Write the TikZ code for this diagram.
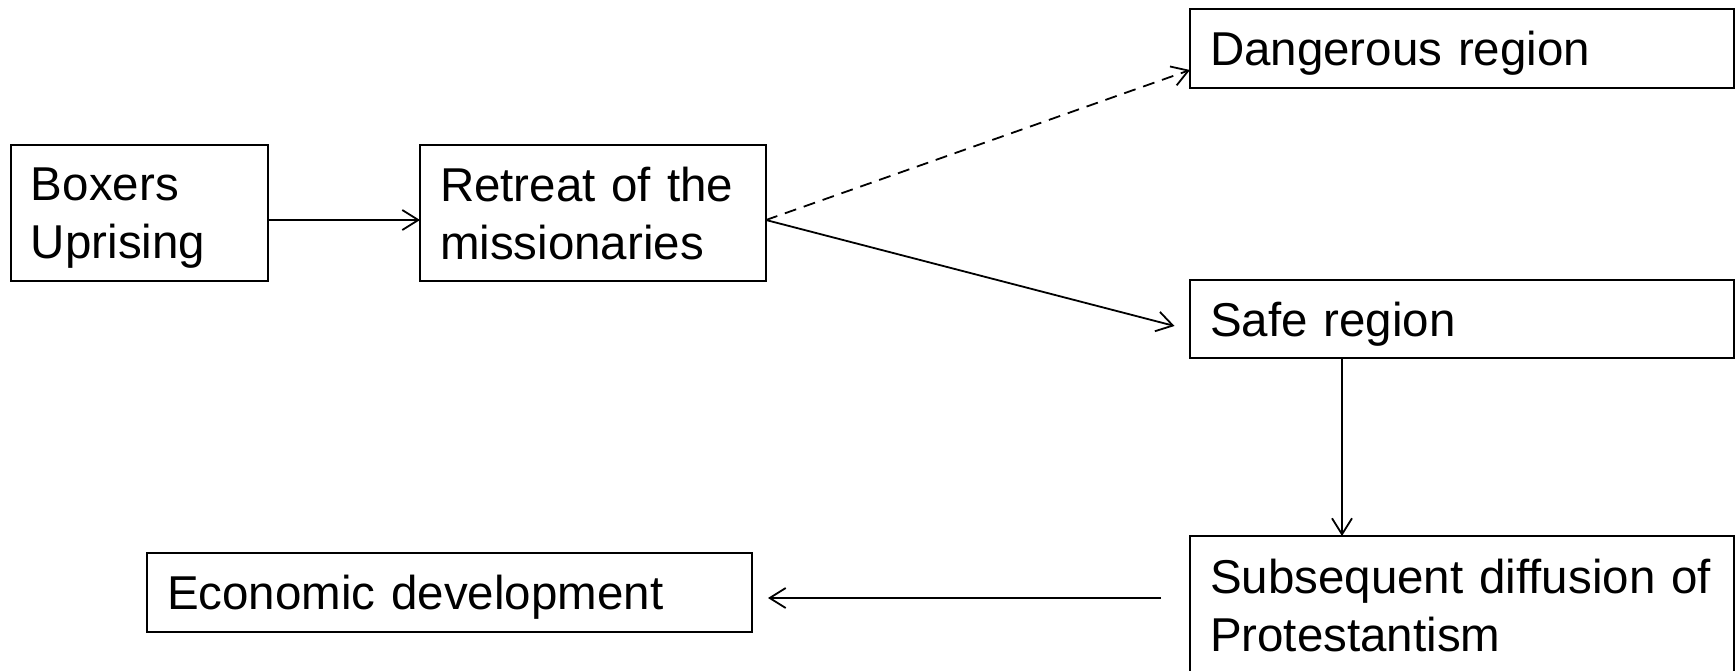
\documentclass[tikz,border=0pt]{standalone}
\usepackage{fontspec}
\setmainfont{Liberation Sans}
\usetikzlibrary{arrows.meta}
\tikzset{
  box/.style={draw, rectangle, anchor=north west, align=left, inner xsep=10pt,
    inner ysep=0pt, outer sep=0pt, line width=1.1pt, text depth=0pt,
    font=\fontsize{23.75}{28.8}\selectfont},
  twolines/.style={box, text depth=28.8pt},
  link/.style={line width=0.9pt, -{Straight Barb[length=8pt,width=10pt]}}
}
\begin{document}
\begin{tikzpicture}[x=0.5pt, y=-0.5pt]
  \useasboundingbox (0,0) rectangle (1736,670);
  % boxes
  \node[twolines, text width=108.5pt, minimum height=68pt] (boxers) at (11,145) {Boxers\\Uprising};
  \node[twolines, text width=153pt, minimum height=68pt] (retreat) at (420,145) {Retreat of the\\missionaries};
  \node[box, text width=252pt, minimum height=39.5pt] (danger) at (1190,9) {Dangerous region};
  \node[box, text width=252pt, minimum height=39pt] (safe) at (1190,280) {Safe region};
  \node[twolines, text width=252pt, minimum height=69pt] (subseq) at (1190,536) {Subsequent diffusion of\\Protestantism};
  \node[box, text width=282.5pt, minimum height=39.5pt] (econ) at (147,553) {Economic development};
  % arrows
  \draw[link] ([yshift=-3.5pt]boxers.east) -- ([yshift=-3.5pt]retreat.west);
  \draw[link, dash pattern=on 6pt off 4pt] ([yshift=-3.5pt]retreat.east) -- ([yshift=-10.75pt]danger.west);
  \draw[link, shorten >=8pt] ([yshift=-3.5pt]retreat.east) -- ([yshift=-5.5pt]safe.west);
  \draw[link] ([xshift=76pt]safe.south west) -- ([xshift=76pt]subseq.north west);
  \draw[link, shorten <=14.5pt, shorten >=8pt] ([yshift=3.5pt]subseq.west) -- ([yshift=-2.75pt]econ.east);
\end{tikzpicture}
\end{document}
